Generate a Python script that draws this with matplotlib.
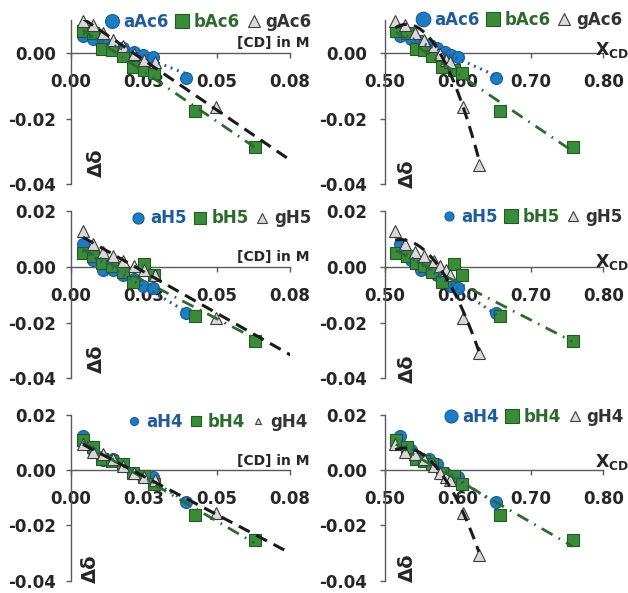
import numpy as np
import matplotlib
matplotlib.use("Agg")
import matplotlib.pyplot as plt
from matplotlib.lines import Line2D
from matplotlib.ticker import FuncFormatter

plt.rcParams['font.family'] = ['DejaVu Sans']
plt.rcParams['font.weight'] = 'bold'
plt.rcParams['axes.unicode_minus'] = False

# CD concentration (M) for each titration step
conc_a = [0.0041, 0.0075, 0.0110, 0.0144, 0.0180, 0.0216, 0.0248, 0.0282, 0.0395]
conc_b = [0.0040, 0.0074, 0.0107, 0.0142, 0.0179, 0.0213, 0.0251, 0.0286, 0.0426, 0.0630]
conc_g = [0.0041, 0.0074, 0.0110, 0.0144, 0.0179, 0.0217, 0.0251, 0.0288, 0.0497, 0.0760]

# mole fraction of CD for the same steps
xcd_a = [0.521, 0.536, 0.549, 0.561, 0.572, 0.583, 0.591, 0.600, 0.653]
xcd_b = [0.515, 0.530, 0.542, 0.553, 0.565, 0.578, 0.5945, 0.6055, 0.658, 0.758]
xcd_g = [0.514, 0.528, 0.5415, 0.553, 0.567, 0.576, 0.5845, 0.590, 0.6075, 0.629]

# chemical shift changes
dd_a_ac6 = [0.0050, 0.0042, 0.0035, 0.0025, 0.0015, 0.0002, -0.0007, -0.0014, -0.0078]
dd_b_ac6 = [0.0067, 0.0059, 0.0013, 0.0008, -0.0010, -0.0043, -0.0053, -0.0061, -0.0177, -0.0285]
dd_g_ac6 = [0.0097, 0.0085, 0.0060, 0.0038, 0.0022, -0.0004, -0.0022, -0.0029, -0.0165, -0.0340]

dd_a_h5 = [0.0082, 0.0026, -0.0010, -0.0013, -0.0031, -0.0045, -0.0069, -0.0075, -0.0167]
dd_b_h5 = [0.0050, 0.0038, 0.0014, 0.0002, -0.0018, -0.0054, 0.0011, -0.0028, -0.0176, -0.0266]
dd_g_h5 = [0.0127, 0.0080, 0.0054, 0.0038, 0.0020, 0.0002, -0.0013, -0.0031, -0.0182, -0.0311]

dd_a_h4 = [0.0125, 0.0072, 0.0036, 0.0042, 0.0024, -0.0010, -0.0024, -0.0026, -0.0117]
dd_b_h4 = [0.0108, 0.0084, 0.0042, 0.0033, 0.0024, -0.0010, -0.0022, -0.0051, -0.0161, -0.0253]
dd_g_h4 = [0.0096, 0.0066, 0.0060, 0.0042, 0.0014, -0.0012, -0.0024, -0.0036, -0.0155, -0.0308]

names_ac6 = ['aAc6', 'bAc6', 'gAc6']
names_h5 = ['aH5', 'bH5', 'gH5']
names_h4 = ['aH4', 'bH4', 'gH4']

W, H = 628, 593
AXIS = '#5a5a5a'
DARK = '#262626'

# face, edge, legend text, trend colour per series
series_style = [
    dict(marker='o', mfc='#1c7cc4', mec='#1a5c99', txt='#1f5c99', lc='#1f5c99',
         ls=(0, (0.6, 1.6)), lw=2.2, ms=8.6),
    dict(marker='s', mfc='#3a8c3a', mec='#225a22', txt='#2d6a2d', lc='#2d6a2d',
         ls=(0, (4.5, 2.5, 0.6, 2.5)), lw=2.0, ms=8.6),
    dict(marker='^', mfc='#d9d9d9', mec='#3c3c3c', txt='#333333', lc='#1a1a1a',
         ls=(0, (4.0, 2.4)), lw=2.2, ms=8.0),
]

fig = plt.figure(figsize=(W / 100, H / 100), dpi=100)
fig.patch.set_facecolor('white')

# pixel boxes (left, right, top, bottom) for the two columns / three rows
cols = [(71, 289.5), (385, 603.3)]
rows_px = [(20.0, 184.3), (211.0, 378.3), (415.0, 580.5)]

fmt = FuncFormatter(lambda v, p: f"{v + 1e-9:.2f}")

panels = [
    # row, col, x data, y data, names, legend pos, legend marker sizes, label pos
    dict(r=0, c=0, xs=(conc_a, conc_b, conc_g), ys=(dd_a_ac6, dd_b_ac6, dd_g_ac6),
         names=names_ac6, leg=(1.10, 0.99), lms=(10, 9.4, 8.6), dd=(0.114, 0.13),
         lab=(1.09, 0.86), ytop=0.01),
    dict(r=0, c=1, xs=(xcd_a, xcd_b, xcd_g), ys=(dd_a_ac6, dd_b_ac6, dd_g_ac6),
         names=names_ac6, leg=(1.086, 1.0), lms=(10.5, 9.4, 8.6), dd=(0.103, 0.063),
         lab=(1.04, 0.817), ytop=0.01),
    dict(r=1, c=0, xs=(conc_a, conc_b, conc_g), ys=(dd_a_h5, dd_b_h5, dd_g_h5),
         names=names_h5, leg=(1.099, 0.956), lms=(8, 8, 7.2), dd=(0.114, 0.118),
         lab=(1.09, 0.727), ytop=0.02),
    dict(r=1, c=1, xs=(xcd_a, xcd_b, xcd_g), ys=(dd_a_h5, dd_b_h5, dd_g_h5),
         names=names_h5, leg=(1.086, 0.966), lms=(6.5, 9.4, 7.2), dd=(0.103, 0.056),
         lab=(1.04, 0.695), ytop=0.02),
    dict(r=2, c=0, xs=(conc_a, conc_b, conc_g), ys=(dd_a_h4, dd_b_h4, dd_g_h4),
         names=names_h4, leg=(1.082, 0.96), lms=(5.8, 7.2, 5.0), dd=(0.091, 0.07),
         lab=(1.09, 0.72), ytop=0.02),
    dict(r=2, c=1, xs=(xcd_a, xcd_b, xcd_g), ys=(dd_a_h4, dd_b_h4, dd_g_h4),
         names=names_h4, leg=(1.093, 0.99), lms=(9.4, 9.4, 7.2), dd=(0.103, 0.075),
         lab=(1.04, 0.718), ytop=0.02),
]

for p in panels:
    x0, x1 = cols[p['c']]
    t, b = rows_px[p['r']]
    ax = fig.add_axes([x0 / W, 1 - b / H, (x1 - x0) / W, (b - t) / H])
    ax.set_facecolor('none')

    if p['c'] == 0:
        xlim = (0.0, 0.075)
        xticks = [0.0, 0.025, 0.05, 0.075]
    else:
        xlim = (0.5, 0.8)
        xticks = [0.5, 0.6, 0.7, 0.8]
    ax.set_xlim(*xlim)
    ax.set_ylim(-0.04, p['ytop'])
    ax.set_xticks(xticks)
    ax.set_yticks([-0.04, -0.02, 0.0] + ([0.02] if p['ytop'] >= 0.02 else []))
    ax.xaxis.set_major_formatter(fmt)
    ax.yaxis.set_major_formatter(fmt)

    for s in ('top', 'right'):
        ax.spines[s].set_visible(False)
    ax.spines['bottom'].set_position(('data', 0))
    for s in ('left', 'bottom'):
        ax.spines[s].set_color(AXIS)
        ax.spines[s].set_linewidth(1.0)
    ax.tick_params(axis='x', direction='out', length=3.6, width=1.0, color=AXIS,
                   pad=11, labelsize=12, labelcolor=DARK)
    ax.tick_params(axis='y', direction='out', length=3.6, width=1.0, color=AXIS,
                   pad=7 if p['c'] == 0 else 9, labelsize=12, labelcolor=DARK)

    handles = []
    for i, (xv, yv, st) in enumerate(zip(p['xs'], p['ys'], series_style)):
        xv = np.asarray(xv)
        yv = np.asarray(yv)
        inside = (xv >= xlim[0]) & (xv <= xlim[1])
        ax.plot(xv[inside], yv[inside], ls='none', marker=st['marker'], ms=st['ms'],
                mfc=st['mfc'], mec=st['mec'], mew=0.8, zorder=3 + i, clip_on=False)
        # gamma series bends on the mole-fraction scale
        deg = 2 if (i == 2 and p['c'] == 1) else 1
        coef = np.polyfit(xv, yv, deg)
        xx = np.linspace(xv.min(), xv.max(), 200)
        ax.plot(xx, np.polyval(coef, xx), color=st['lc'], ls=st['ls'], lw=st['lw'],
                dash_capstyle='butt', zorder=10)
        handles.append(Line2D([], [], ls='none', marker=st['marker'], ms=p['lms'][i],
                              mfc=st['mfc'], mec=st['mec'], mew=0.8))

    leg = ax.legend(handles, p['names'], ncol=3, loc='center right',
                    bbox_to_anchor=p['leg'], bbox_transform=ax.transAxes,
                    frameon=False, fontsize=12, handlelength=0.8, handletextpad=0.3,
                    columnspacing=0.4, borderpad=0, borderaxespad=0)
    for txt, st in zip(leg.get_texts(), series_style):
        txt.set_color(st['txt'])
        txt.set_fontweight('bold')
    leg.set_zorder(20)

    if p['c'] == 0:
        ax.text(p['lab'][0], p['lab'][1], '[CD] in M', transform=ax.transAxes,
                ha='right', va='center', fontsize=10, color=DARK)
    else:
        ax.text(p['lab'][0], p['lab'][1], r'X$_{\mathbf{CD}}$', transform=ax.transAxes,
                ha='center', va='center', fontsize=12.5, color=DARK)
    ax.text(p['dd'][0], p['dd'][1], 'Δδ', transform=ax.transAxes, rotation=90,
            ha='center', va='center', fontsize=14, color=DARK)

fig.savefig('out.png', dpi=100, facecolor='white')
